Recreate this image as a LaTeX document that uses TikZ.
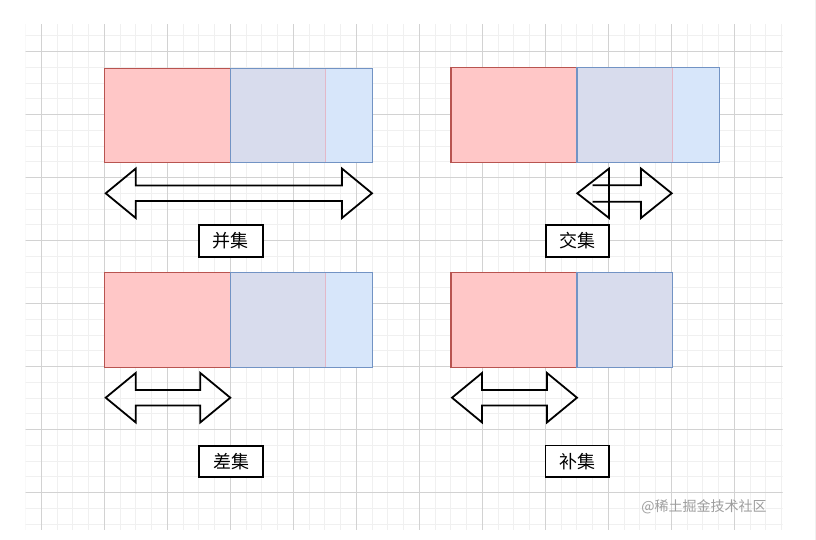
\documentclass[tikz,border=0pt]{standalone}
\usepackage{fontspec}
\newfontfamily\cjk{Noto Sans CJK SC}
\definecolor{setred}{HTML}{FFC7C7}
\definecolor{setredline}{HTML}{B85450}
\definecolor{setmix}{HTML}{D8DCED}
\definecolor{setblue}{HTML}{D7E6FA}
\definecolor{setblueline}{HTML}{7293C4}
\definecolor{setpink}{HTML}{E3B8C8}
\definecolor{gridlight}{HTML}{F0F0F0}
\definecolor{griddark}{HTML}{D2D2D2}

\tikzset{
  gridminor/.style={draw=gridlight,line width=0.9pt},
  gridmajor/.style={draw=griddark,line width=0.9pt},
  redpart/.style={draw=setredline,line width=1.1pt},
  bluepart/.style={draw=setblueline,line width=1.1pt},
  twoway/.style={draw=black,line width=1.8pt,line join=miter},
  setlabel/.style={draw=black,fill=white,line width=1.7pt,minimum width=63.5pt,
    minimum height=31.6pt,inner sep=0pt,font=\cjk\fontsize{18}{18}\selectfont}
}

% double arrow: left x, right x, y
\newcommand\twoarrow[3]{%
  \draw[twoway] (#1,#3) -- ({#1+30},{#3-24.7}) -- ({#1+30},{#3-7.8}) -- ({#2-30},{#3-7.8})
    -- ({#2-30},{#3-24.7}) -- (#2,#3) -- ({#2-30},{#3+24.7}) -- ({#2-30},{#3+7.8})
    -- ({#1+30},{#3+7.8}) -- ({#1+30},{#3+24.7}) -- cycle;}

\begin{document}
\begin{tikzpicture}[x=1pt,y=-1pt]
\fill[white] (0,0) rectangle (816,540);
\useasboundingbox (0,0) rectangle (816,540);

%grid
\begin{scope}
\clip (25.5,25) rectangle (782.5,529);
\foreach \k in {0,...,48} \draw[gridminor] ({25.55+15.75*\k},0) -- ++(0,540);
\foreach \k in {0,...,33} \draw[gridminor] (0,{20.17+15.75*\k}) -- ++(816,0);
\foreach \k in {0,...,11} \draw[gridmajor] ({41.3+63*\k},0) -- ++(0,540);
\foreach \k in {0,...,7} \draw[gridmajor] (0,{51.67+63*\k}) -- ++(816,0);
\end{scope}
\draw[black!6,line width=0.8pt] (815,0) -- (815,540);

%union
\begin{scope}[shift={(104.3,68.3)}]
\fill[setred] (0,0) rectangle (126,94.4);
\fill[setmix] (126,0) rectangle (221.4,94.4);
\fill[setblue] (221.4,0) rectangle (268.4,94.4);
\draw[redpart] (126,0) -- (0,0) -- (0,94.4) -- (126,94.4);
\draw[setpink,line width=0.8pt] (221.4,0) -- (221.4,94.4);
\draw[bluepart] (126,0) rectangle (268.4,94.4);
\twoarrow{1.4}{267.7}{125}
\node[setlabel] (union) at (126.6,172.6) {并集};
\end{scope}

%intersection
\begin{scope}[shift={(451,67.7)}]
\fill[setred] (0,0) rectangle (126,95);
\fill[setmix] (126,0) rectangle (221.3,95);
\fill[setblue] (221.3,0) rectangle (268.3,95);
\draw[redpart] (126,0) -- (0,0) -- (0,95) -- (126,95);
\draw[setpink,line width=0.8pt] (221.3,0) -- (221.3,95);
\draw[bluepart] (126,0) rectangle (268.3,95);
\draw[twoway] (126.3,125.6) -- (158,100.9) -- (158,150.3) -- cycle;
\draw[twoway] (141.7,117.6) -- (190,117.6) -- (190,100.9) -- (220.7,125.6)
  -- (190,150.3) -- (190,134) -- (141.7,134);
\node[setlabel] (inter) at (126.4,173.2) {交集};
\end{scope}

%difference
\begin{scope}[shift={(104.3,272.7)}]
\fill[setred] (0,0) rectangle (126,94.4);
\fill[setmix] (126,0) rectangle (221.4,94.4);
\fill[setblue] (221.4,0) rectangle (268.4,94.4);
\draw[redpart] (126,0) -- (0,0) -- (0,94.4) -- (126,94.4);
\draw[setpink,line width=0.8pt] (221.4,0) -- (221.4,94.4);
\draw[bluepart] (126,0) rectangle (268.4,94.4);
\twoarrow{1.4}{126}{125}
\node[setlabel] (diff) at (126.7,188.8) {差集};
\end{scope}

%complement
\begin{scope}[shift={(451,272.7)}]
\fill[setred] (0,0) rectangle (126,94.4);
\fill[setmix] (126,0) rectangle (221.3,94.4);
\draw[redpart] (126,0) -- (0,0) -- (0,94.4) -- (126,94.4);
\draw[bluepart] (126,0) rectangle (221.3,94.4);
\twoarrow{1}{126}{125}
\node[setlabel] (compl) at (126.3,188.6) {补集};
\end{scope}

\node[anchor=east,text=black!38,inner sep=0pt,font=\cjk\fontsize{14}{14}\selectfont]
  (mark) at (766.7,507) {@稀土掘金技术社区};
\end{tikzpicture}
\end{document}
